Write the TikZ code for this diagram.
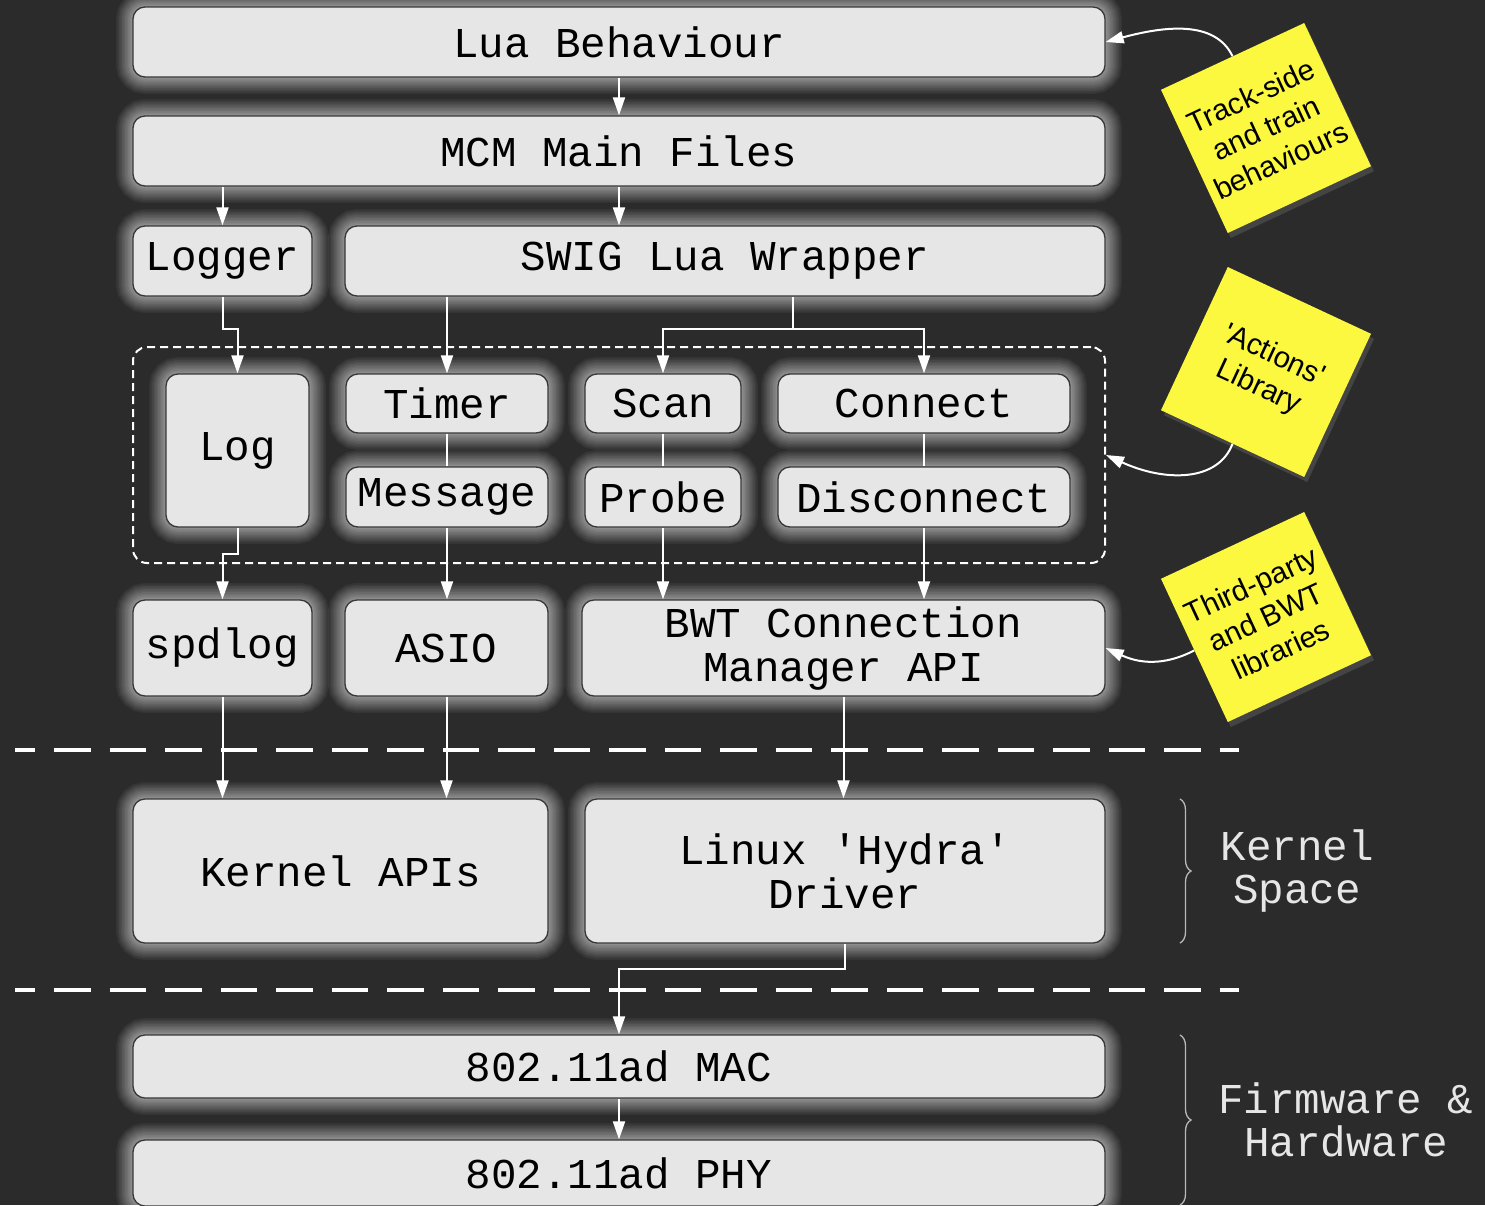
\documentclass[tikz,border=0pt]{standalone}
\usepackage{fontspec}
\usetikzlibrary{arrows.meta,shadows,decorations.pathreplacing,calc}
\newfontfamily\boxfont{Liberation Mono}
\newfontfamily\notefont{Liberation Sans}
\definecolor{bgc}{HTML}{2B2B2B}
\definecolor{boxfill}{HTML}{E6E6E6}
\definecolor{boxline}{HTML}{383838}
\definecolor{notey}{HTML}{FBF83F}
\definecolor{lblc}{HTML}{E6E6E6}
\begin{document}
\begin{tikzpicture}[x=1pt,y=-1pt,
  box/.style={draw=boxline, line width=1.3pt, fill=boxfill, rounded corners=12pt,
    inner sep=0pt, align=center, text=black,
    font=\boxfont\fontsize{42.5}{44}\selectfont,
    preaction={draw=white, draw opacity=0.045, line width=34pt},
    preaction={draw=white, draw opacity=0.045, line width=31pt},
    preaction={draw=white, draw opacity=0.05, line width=28pt},
    preaction={draw=white, draw opacity=0.05, line width=25pt},
    preaction={draw=white, draw opacity=0.055, line width=22pt},
    preaction={draw=white, draw opacity=0.055, line width=19pt},
    preaction={draw=white, draw opacity=0.06, line width=16pt},
    preaction={draw=white, draw opacity=0.06, line width=13pt},
    preaction={draw=white, draw opacity=0.065, line width=10pt},
    preaction={draw=white, draw opacity=0.07, line width=7pt},
    preaction={draw=white, draw opacity=0.08, line width=4pt}},
  dbox/.style={draw=white, line width=2pt, dash pattern=on 8pt off 5pt, rounded corners=14pt, inner sep=0pt},
  conn/.style={draw=white, line width=2pt},
  arr/.style={conn, -{Triangle[length=18pt,width=12pt]}},
  sep/.style={draw=white, line width=4pt, dash pattern=on 36.5pt off 19pt, dash phase=16.5pt},
  brc/.style={draw=lblc!80!black, line width=1.3pt, decorate, decoration={brace, amplitude=11pt}},
  lbl/.style={align=center, text=lblc, font=\boxfont\fontsize{42.5}{43}\selectfont},
  note/.style={fill=notey, minimum width=158pt, minimum height=158pt, inner sep=0pt,
    align=center, text=black, font=\notefont\fontsize{29.5}{35.5}\selectfont,
    drop shadow={shadow xshift=3pt, shadow yshift=-5pt, opacity=0.3}}
]
\path[use as bounding box, fill=bgc] (0,0) rectangle (1485,1205);
\clip (0,0) rectangle (1485,1205);

% boxes
\node[box, minimum width=972pt, minimum height=70pt] (lua) at (619,42) {Lua Behaviour};
\node[box, minimum width=972pt, minimum height=70pt] (mcm) at (619,151) {MCM Main Files};
\node[box, minimum width=179pt, minimum height=70pt] (logger) at (222.5,261) {Logger};
\node[box, minimum width=760pt, minimum height=70pt] (swig) at (725,261) {SWIG Lua Wrapper};
\node[box, minimum width=143pt, minimum height=153pt] (log) at (237.5,450.5) {Log};
\node[box, minimum width=202pt, minimum height=59pt] (timer) at (447,403.5) {Timer};
\node[box, minimum width=202pt, minimum height=60pt] (message) at (447,497) {Message};
\node[box, minimum width=156pt, minimum height=59pt] (scan) at (663,403.5) {Scan};
\node[box, minimum width=156pt, minimum height=60pt] (probe) at (663,497) {Probe};
\node[box, minimum width=292pt, minimum height=59pt] (connect) at (924,403.5) {Connect};
\node[box, minimum width=292pt, minimum height=60pt] (disconnect) at (924,497) {Disconnect};
\node[box, minimum width=179pt, minimum height=96pt] (spdlog) at (222.5,648) {spdlog};
\node[box, minimum width=203pt, minimum height=96pt] (asio) at (446.5,648) {ASIO};
\node[box, minimum width=523pt, minimum height=96pt] (bwt) at (843.5,648) {BWT Connection\\Manager API};
\node[box, minimum width=415pt, minimum height=144pt] (kapi) at (340.5,871) {Kernel APIs};
\node[box, minimum width=520pt, minimum height=144pt] (hydra) at (845,871) {Linux 'Hydra'\\Driver};
\node[box, minimum width=972pt, minimum height=63pt] (mac) at (619,1066.5) {802.11ad MAC};
\node[box, minimum width=972pt, minimum height=66pt] (phy) at (619,1173) {802.11ad PHY};

% dashed group
\node[dbox, minimum width=972pt, minimum height=216pt] (dashbox) at (619,455) {};

% sticky notes
\node[note, rotate=25] (n1) at (1266,128) {Track-side\\and train\\behaviours};
\node[note, rotate=-25] (n2) at (1266,372) {'Actions'\\Library};
\node[note, rotate=25] (n3) at (1266,617) {Third-party\\and BWT\\libraries};

% connectors
\draw[arr] (lua.south) -- (mcm.north);
\draw[arr] (logger.north |- mcm.south) -- (logger.north);
\draw[arr] (mcm.south) -- (mcm.south |- swig.north);
\draw[arr] (logger.south) -- ++(0,32) -| (log.north);
\draw[arr] (timer.north |- swig.south) -- (timer.north);
\coordinate (split) at (793,329);
\draw[conn] (split |- swig.south) -- (split);
\draw[arr] (split) -| (scan.north);
\draw[arr] (split) -| (connect.north);
\draw[conn] (timer.south) -- (message.north);
\draw[conn] (scan.south) -- (probe.north);
\draw[conn] (connect.south) -- (disconnect.north);
\draw[arr] (log.south) -- ++(0,26) -| (spdlog.north);
\draw[arr] (message.south) -- (message.south |- asio.north);
\draw[arr] (probe.south) -- (probe.south |- bwt.north);
\draw[arr] (disconnect.south) -- (disconnect.south |- bwt.north);
\draw[arr] (spdlog.south) -- (spdlog.south |- kapi.north);
\draw[arr] (asio.south) -- (asio.south |- kapi.north);
\draw[arr] (bwt.south) -- (bwt.south |- hydra.north);
\draw[arr] (hydra.south) -- ++(0,25) -| (mac.north);
\draw[arr] (mac.south) -- (phy.north);

% note connectors
\draw[arr] (n1.north) .. controls (1215,20) and (1165,26) .. (lua.east);
\draw[arr] (n2.south) .. controls (1218,482) and (1165,482) .. (dashbox.east);
\draw[arr] (n3.west) .. controls (1170,663) and (1145,666) .. (bwt.east);

% separators
\draw[sep] (15,750) -- (1239,750);
\draw[sep] (15,990) -- (1239,990);

% braces and labels
\draw[brc] (1180,799) -- (1180,943);
\draw[brc] (1180,1035) -- (1180,1205);
\node[lbl] (kslbl) at (1297,871) {Kernel\\Space};
\node[lbl] (fhlbl) at (1346,1120) {Firmware \&\\Hardware};
\end{tikzpicture}
\end{document}
